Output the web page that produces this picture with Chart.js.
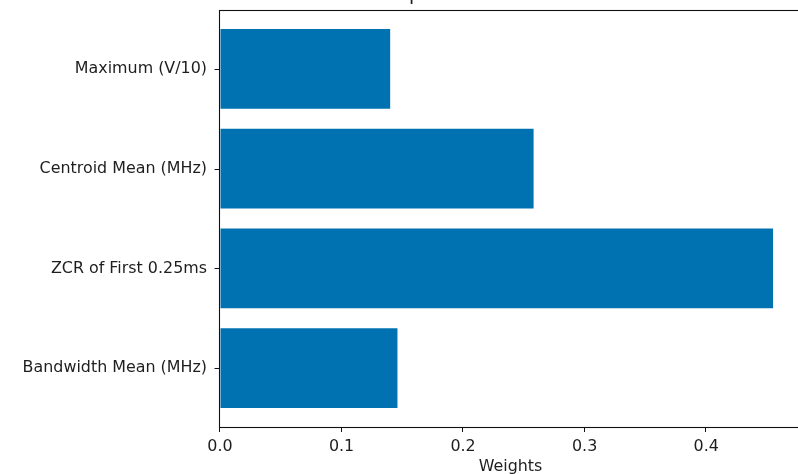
<!DOCTYPE html>
<html>
<head>
<meta charset="utf-8">
<script src="https://cdn.jsdelivr.net/npm/chart.js@4/dist/chart.umd.min.js"></script>
<style>
  html, body { margin: 0; padding: 0; background: #ffffff; overflow: hidden; width: 798px; height: 474px; }
  #wrap { position: absolute; left: 0; top: -26px; width: 830px; height: 502px; }
</style>
</head>
<body>
<div id="wrap"><canvas id="chart" width="830" height="502"></canvas></div>
<script>
// Features listed from bottom bar to top bar
const featureNames = [
  'Bandwidth Mean (MHz)',
  'ZCR of First 0.25ms',
  'Centroid Mean (MHz)',
  'Maximum (V/10)'
];
const featureWeights = [0.146, 0.455, 0.258, 0.140];
const weightTicks = [0.0, 0.1, 0.2, 0.3, 0.4];
const chartTitle = 'Feature Importance';
const xAxisTitle = 'Weights';

const FONT = "'DejaVu Sans', 'Liberation Sans', sans-serif";
const INK = '#1e1e1e';
const LABEL_SIZE = 15.9;
const TICK_LEN = 5;

// Spines on all four sides plus outward tick marks on both axes
const frame = {
  id: 'frame',
  afterDatasetsDraw(chart) {
    const { ctx, chartArea: a, scales } = chart;
    ctx.save();
    ctx.strokeStyle = '#111111';
    ctx.lineWidth = 1.1;
    ctx.strokeRect(a.left - 0.5, a.top + 0.5, a.right - a.left, a.bottom - a.top);
    ctx.lineWidth = 1;
    ctx.beginPath();
    scales.x.ticks.forEach(t => {
      const px = Math.round(scales.x.getPixelForValue(t.value)) - 0.5;
      ctx.moveTo(px, a.bottom);
      ctx.lineTo(px, a.bottom + TICK_LEN);
    });
    scales.y.ticks.forEach(t => {
      const py = Math.round(scales.y.getPixelForValue(t.value)) + 0.5;
      ctx.moveTo(a.left - 0.5, py);
      ctx.lineTo(a.left - 0.5 - TICK_LEN, py);
    });
    ctx.stroke();
    ctx.restore();
  }
};

new Chart(document.getElementById('chart'), {
  type: 'bar',
  data: {
    datasets: [{
      data: featureWeights.map((w, i) => ({ x: w, y: i })),
      backgroundColor: '#0072b2',
      borderWidth: 0,
      categoryPercentage: 0.8,
      barPercentage: 1.0
    }]
  },
  options: {
    indexAxis: 'y',
    responsive: false,
    animation: false,
    events: [],
    layout: { padding: { top: 4, right: 29, bottom: 0, left: 0 } },
    plugins: {
      legend: { display: false },
      tooltip: { enabled: false },
      title: {
        display: true,
        text: chartTitle,
        color: INK,
        font: { family: FONT, size: 19, weight: 'normal', lineHeight: 1.2 },
        padding: { top: 5.6, bottom: 3.6 }
      }
    },
    scales: {
      x: {
        type: 'linear',
        min: 0,
        max: 0.478,
        offset: false,
        afterBuildTicks(scale) {
          scale.ticks = weightTicks.map(v => ({ value: v }));
        },
        afterFit(scale) { scale.height = 49; },
        border: { display: false },
        grid: {
          offset: false,
          drawOnChartArea: false,
          drawTicks: true,
          tickLength: TICK_LEN,
          tickColor: 'rgba(0,0,0,0)'
        },
        ticks: {
          color: INK,
          padding: 5,
          font: { family: FONT, size: LABEL_SIZE },
          callback: v => Number(v).toFixed(1)
        },
        title: {
          display: true,
          text: xAxisTitle,
          color: INK,
          font: { family: FONT, size: LABEL_SIZE },
          padding: { top: 0, bottom: 0 }
        }
      },
      y: {
        type: 'linear',
        min: -0.59,
        max: 3.59,
        offset: false,
        afterBuildTicks(scale) {
          scale.ticks = featureNames.map((_, i) => ({ value: i }));
        },
        afterFit(scale) { scale.width = 220; },
        border: { display: false },
        grid: {
          offset: false,
          drawOnChartArea: false,
          drawTicks: true,
          tickLength: TICK_LEN,
          tickColor: 'rgba(0,0,0,0)'
        },
        ticks: {
          color: INK,
          padding: 8,
          font: { family: FONT, size: LABEL_SIZE },
          callback: v => featureNames[v] ?? ''
        }
      }
    }
  },
  plugins: [frame]
});
</script>
</body>
</html>
